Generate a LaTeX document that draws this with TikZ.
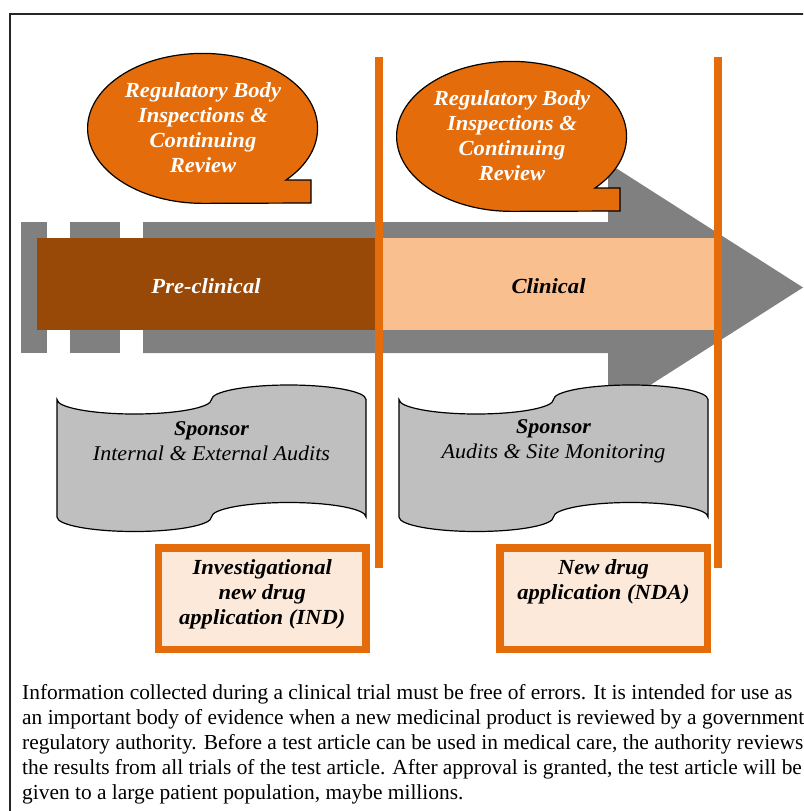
\documentclass[tikz,border=0pt]{standalone}
\usepackage{fontspec}
\setmainfont{Liberation Serif}
\newfontfamily\cambria[FakeStretch=1.05]{Liberation Serif}
\usetikzlibrary{positioning}
\definecolor{callorange}{HTML}{E46C0A}
\definecolor{darkbrown}{HTML}{984807}
\definecolor{lightorange}{HTML}{F9BF8F}
\definecolor{paleorange}{HTML}{FDE9D9}
\definecolor{arrowgray}{HTML}{808080}
\definecolor{tapegray}{HTML}{BFBFBF}
\tikzstyle{frame} = [draw=black!85, line width=2pt]
\tikzstyle{timeline} = [fill=arrowgray, draw=none]
\tikzstyle{phase} = [rectangle, minimum height=92pt, inner sep=0pt, outer sep=0pt, text height=18pt, text depth=0pt, text centered, font=\cambria\bfseries\itshape\fontsize{21.5}{25}\selectfont]
\tikzstyle{bubble} = [fill=callorange, draw=black, line width=1.2pt]
\tikzstyle{bubble_text} = [align=center, text=white, inner sep=0pt, font=\cambria\bfseries\itshape\fontsize{21.5}{25}\selectfont]
\tikzstyle{tape} = [fill=tapegray, draw=black, line width=1.2pt]
\tikzstyle{tape_text} = [align=center, inner sep=0pt, font=\cambria\itshape\fontsize{21}{25}\selectfont]
\tikzstyle{milestone} = [line width=8pt, draw=callorange]
\tikzstyle{filing} = [rectangle, draw=callorange, fill=paleorange, line width=7.5pt, minimum width=207.5pt, minimum height=101.5pt, inner sep=0pt, outer sep=0pt]
\tikzstyle{filing_text} = [align=center, inner sep=0pt, font=\cambria\bfseries\itshape\fontsize{21.5}{25}\selectfont]
\tikzstyle{caption} = [align=left, inner sep=0pt, anchor=north west, font=\fontsize{21.4}{25}\selectfont]

\begin{document}
\begin{tikzpicture}[x=1pt, y=-1pt, node distance=11pt]
		\clip (0,0) rectangle (803,811);
		\draw [frame] (10,14) rectangle (830,840);

		\fill [timeline] (21,222) rectangle (47,353);
		\fill [timeline] (70,222) rectangle (120,353);
		\fill [timeline] (143,222) -- (608,222) -- (608,163) -- (803,287.5) -- (608,412) -- (608,353) -- (143,353) -- cycle;

		\node (pre_clinical) [phase, fill=darkbrown, text=white, minimum width=338pt] at (206,284) {Pre-clinical};
		\node (clinical) [phase, fill=lightorange, minimum width=347pt, right=0pt of pre_clinical] {Clinical};

		\draw [bubble] (286,180) arc [start angle=43.5, end angle=-270, x radius=115, y radius=75] -- (311,203) -- (311,180) -- cycle;
		\node (inspect_pre) [bubble_text] at (203,128) {Regulatory Body\\Inspections \&\\Continuing\\Review};
		\draw [bubble] (595,188) arc [start angle=43.5, end angle=-270, x radius=115, y radius=75] -- (620,211) -- (620,188) -- cycle;
		\node (inspect_clin) [bubble_text] at (512,136) {Regulatory Body\\Inspections \&\\Continuing\\Review};

		\draw [tape] (57,399.5) arc [start angle=180, end angle=0, x radius=77.25, y radius=14.5] arc [start angle=180, end angle=360, x radius=77.25, y radius=14.5] -- (366,517) arc [start angle=0, end angle=-180, x radius=77.25, y radius=14.5] arc [start angle=0, end angle=180, x radius=77.25, y radius=14.5] -- cycle;
		\node (sponsor_pre) [tape_text] at (211.5,441.5) {\textbf{Sponsor}\\Internal \& External Audits};
		\draw [tape] (399,399.5) arc [start angle=180, end angle=0, x radius=77.25, y radius=14.5] arc [start angle=180, end angle=360, x radius=77.25, y radius=14.5] -- (708,517) arc [start angle=0, end angle=-180, x radius=77.25, y radius=14.5] arc [start angle=0, end angle=180, x radius=77.25, y radius=14.5] -- cycle;
		\node (sponsor_clin) [tape_text] at (553.5,441.5) {\textbf{Sponsor}\\Audits \& Site Monitoring};

		\draw [milestone] (379,57) -- (379,568);
		\draw [milestone] (718,57) -- (718,568);

		\node (ind_box) [filing] at (262.25,598.75) {};
		\node (ind) [filing_text, below=of ind_box.north] {Investigational\\new drug\\application (IND)};
		\node (nda_box) [filing] at (603.5,598.75) {};
		\node (nda) [filing_text, below=of nda_box.north] {New drug\\application (NDA)};

		\node (summary) [caption] at (22,684.5) {Information collected during a clinical trial must be free of errors. It is intended for use as\\an important body of evidence when a new medicinal product is reviewed by a government\\regulatory authority. Before a test article can be used in medical care, the authority reviews\\the results from all trials of the test article. After approval is granted, the test article will be\\given to a large patient population, maybe millions.};
	\end{tikzpicture}
\end{document}
